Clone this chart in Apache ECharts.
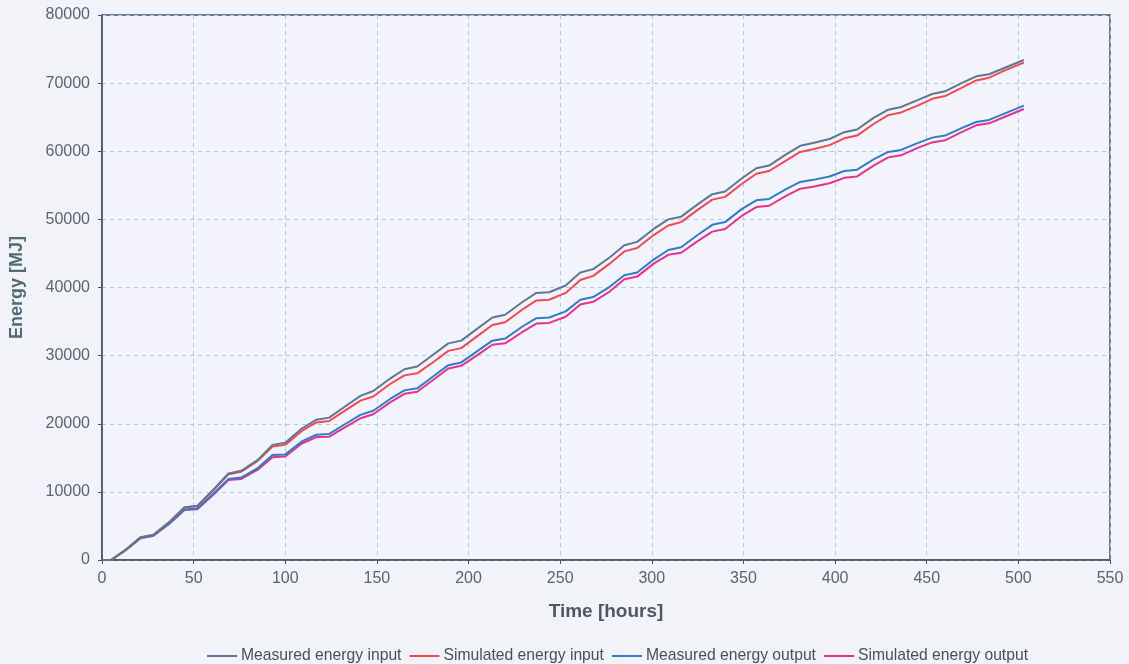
<!DOCTYPE html>
<html><head><meta charset="utf-8">
<script src="https://cdn.jsdelivr.net/npm/echarts@6/dist/echarts.min.js"></script>
<style>html,body{margin:0;padding:0;background:#f2f3f9;}#c{width:1129px;height:664px;}</style>
</head><body><div id="c"></div>
<script>
const hours = [0,5,13,21,28,37,45,52,61,69,76,85,93,100,109,117,124,133,141,148,157,165,172,181,189,196,205,213,220,229,237,244,253,261,268,277,285,292,301,309,316,325,333,340,349,357,364,373,381,388,397,405,412,421,429,436,445,453,460,469,477,484,493,503];
const measuredInput = [0,0,1500,3300,3650,5600,7700,7950,10400,12700,13100,14700,16900,17200,19300,20600,20900,22600,24100,24800,26600,28000,28400,30200,31800,32200,34000,35600,36000,37800,39200,39300,40300,42200,42700,44400,46200,46700,48600,50000,50400,52200,53700,54100,56000,57500,57900,59500,60800,61200,61800,62800,63200,64900,66100,66500,67500,68400,68800,70000,71000,71300,72300,73400];
const simulatedInput = [0,0,1550,3350,3700,5650,7750,7900,10300,12600,12950,14550,16650,16900,18950,20200,20400,22000,23400,24000,25800,27100,27400,29100,30700,31100,32900,34500,34900,36700,38100,38200,39200,41100,41700,43500,45300,45800,47700,49100,49600,51400,52900,53300,55200,56700,57100,58600,59900,60300,60900,61900,62300,64000,65300,65700,66700,67700,68100,69300,70400,70800,71900,73000];
const measuredOutput = [0,0,1450,3200,3550,5400,7400,7550,9800,11900,12100,13500,15400,15500,17400,18400,18500,20000,21300,21900,23600,24900,25200,27000,28600,29000,30700,32200,32500,34200,35500,35600,36500,38200,38600,40100,41800,42200,44100,45500,45900,47700,49200,49600,51500,52800,53000,54400,55500,55800,56300,57100,57300,58800,59900,60200,61200,62000,62300,63400,64300,64600,65600,66700];
const simulatedOutput = [0,0,1500,3250,3550,5400,7350,7450,9650,11750,11900,13250,15100,15200,17100,18050,18100,19550,20800,21400,23100,24400,24700,26500,28100,28500,30100,31600,31800,33400,34700,34800,35700,37500,37900,39400,41200,41600,43500,44800,45100,46800,48200,48600,50500,51800,52000,53400,54500,54800,55300,56100,56300,57900,59100,59400,60500,61300,61600,62800,63800,64100,65100,66200];
const seriesNames = ['Measured energy input','Simulated energy input','Measured energy output','Simulated energy output'];
const seriesColors = ['#5b7893','#f5474f','#2f7cc8','#e8308c'];
const xTicks = {min:0,max:550,interval:50};
const yTicks = {min:0,max:80000,interval:10000};

const allData = [measuredInput, simulatedInput, measuredOutput, simulatedOutput];
const chart = echarts.init(document.getElementById('c'), null, {renderer:'canvas'});
const font = '"Liberation Sans", Arial, sans-serif';
chart.setOption({
  backgroundColor:'#f2f3f9',
  animation:false,
  grid:{left:102,right:19,top:15,bottom:104,show:true,backgroundColor:'#f3f4fb',borderColor:'#4a4f62',borderWidth:1.5},
  legend:{top:643,left:202,itemWidth:30,itemHeight:2,itemGap:8,icon:'rect',
    textStyle:{fontFamily:font,fontSize:15.7,color:'#4a4f58',padding:[0,0,0,-1]},
    data:seriesNames},
  xAxis:{type:'value',min:xTicks.min,max:xTicks.max,interval:xTicks.interval,
    name:'Time [hours]',nameLocation:'middle',nameGap:42,
    nameTextStyle:{fontFamily:font,fontSize:19,fontWeight:'bold',color:'#4d5862'},
    axisLine:{lineStyle:{color:'#4a4f62',width:1.5}},
    axisTick:{show:true,length:4,lineStyle:{color:'#4a4f62'}},
    axisLabel:{fontFamily:font,fontSize:16,color:'#5a6370',margin:11},
    splitLine:{show:true,lineStyle:{color:'#9dd2f0',type:[4,4],width:1}}},
  yAxis:{type:'value',min:yTicks.min,max:yTicks.max,interval:yTicks.interval,
    name:'Energy [MJ]',nameLocation:'middle',nameGap:76,
    nameTextStyle:{fontFamily:font,fontSize:18,fontWeight:'bold',color:'#4f6c72'},
    axisLine:{show:true,lineStyle:{color:'#4a4f62',width:1.5}},
    axisTick:{show:true,length:4,lineStyle:{color:'#4a4f62'}},
    axisLabel:{fontFamily:font,fontSize:16,color:'#5a6370',margin:12,formatter:v=>String(v)},
    splitLine:{show:true,lineStyle:{color:'#9dd2f0',type:[4,4],width:1}}},
  series: seriesNames.map((n,i)=>({
    name:n,type:'line',showSymbol:false,symbol:'none',
    data: hours.map((h,k)=>[h, allData[i][k]]),
    lineStyle:{color:seriesColors[i],width:2},
    itemStyle:{color:seriesColors[i]},
    z: 10-i
  }))
});
</script></body></html>
